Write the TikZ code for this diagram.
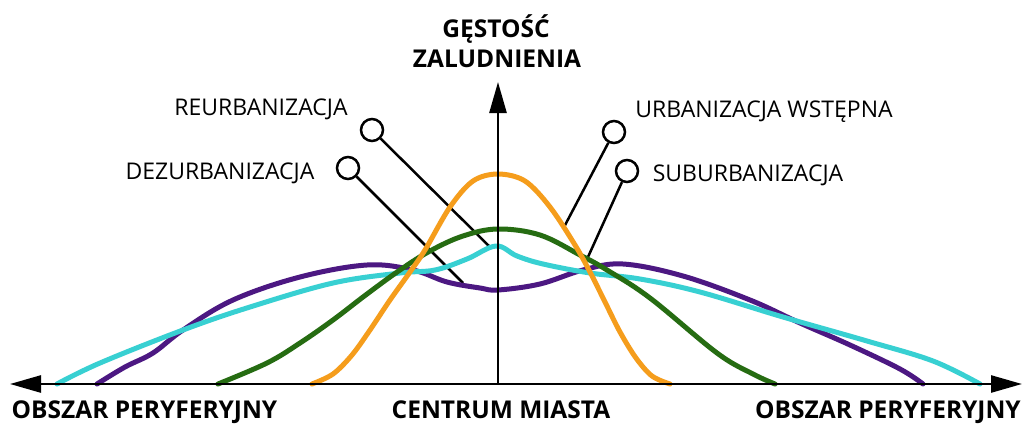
\documentclass[tikz,border=0pt]{standalone}
\usepackage{fontspec}
\setmainfont{Open Sans}
\usetikzlibrary{arrows.meta}
\definecolor{corange}{RGB}{245,157,28}
\definecolor{cgreen}{RGB}{38,108,18}
\definecolor{ccyan}{RGB}{56,208,210}
\definecolor{cpurple}{RGB}{76,24,130}
\tikzset{
  axisline/.style={line width=2.6pt, -{Triangle[length=31pt,width=17pt]}},
  curve/.style={line width=5pt, line cap=round, line join=round},
  leader/.style={line width=2.5pt, black},
  pinring/.style={circle, draw, line width=2.5pt, minimum size=22pt, inner sep=0pt, fill=white},
  boldlbl/.style={font=\fontsize{24.5}{28}\selectfont\bfseries, anchor=base, inner sep=0pt},
  reglbl/.style={font=\fontsize{23}{27}\selectfont, anchor=base, inner sep=0pt},
}
\begin{document}
\begin{tikzpicture}[x=1pt,y=-1pt]
\useasboundingbox[fill=white] (0,0) rectangle (1029,424);
% axis coordinates
\coordinate (O) at (498,384);
\coordinate (Lend) at (10,384);
\coordinate (Rend) at (1022,384);
\coordinate (Top) at (498,82);
% leader line ends
\coordinate (e1) at (490,247);
\coordinate (e2) at (463,283);
\coordinate (e3) at (563,229);
\coordinate (e4) at (588,257);
\node[pinring] (c1) at (372,130) {};
\node[pinring] (c2) at (348,168) {};
\node[pinring] (c3) at (614,132) {};
\node[pinring] (c4) at (627,171) {};
\draw[leader] (c1) -- (e1);
\draw[leader] (c2) -- (e2);
\draw[leader] (c3) -- (e3);
\draw[leader] (c4) -- (e4);
% curves
\draw[curve, cpurple] plot[smooth, tension=0.6] coordinates {(97,384) (125,367) (153,353) (183,330) (233,300) (300,277) (367,265) (413,270) (447,282) (480,288) (498,290) (540,284) (583,270) (623,264) (683,276) (750,300) (800,323) (850,345) (900,369) (923,384)};
\draw[curve, ccyan] plot[smooth, tension=0.6] coordinates {(57,384) (100,363) (183,330) (250,307) (333,283) (400,273) (435,270) (467,259) (496,246) (517,256) (543,264) (590,273) (640,279) (700,292) (783,317) (867,341) (933,361) (980,384)};
\draw[curve, cgreen] plot[smooth, tension=0.6] coordinates {(218,384) (267,363) (300,343) (333,320) (367,294) (400,270) (430,251) (463,236) (498,229) (540,235) (580,255) (607,270) (650,298) (717,353) (753,374) (775,384)};
\draw[curve, corange] plot[smooth, tension=0.55] coordinates {(312,384) (333,374) (352,355) (370,330) (390,300) (410,272) (425,250) (450,207) (473,181) (498,174) (525,181) (550,207) (575,245) (590,272) (605,302) (620,332) (636,358) (652,376) (670,384)};
% axes
\draw[axisline] (O) -- (Lend);
\draw[axisline] (O) -- (Rend);
\draw[axisline] (O) -- (Top);
% texts
\node[boldlbl] (t1) at (496,37) {GĘSTOŚĆ};
\node[boldlbl] (t2) at (497,67) {ZALUDNIENIA};
\node[boldlbl] (t3) at (144.5,418) {OBSZAR PERYFERYJNY};
\node[boldlbl] (t4) at (501,418) {CENTRUM MIASTA};
\node[boldlbl] (t5) at (888,418) {OBSZAR PERYFERYJNY};
\node[reglbl] (l1) at (261,115) {REURBANIZACJA};
\node[reglbl] (l2) at (220,179) {DEZURBANIZACJA};
\node[reglbl] (l3) at (764,117) {URBANIZACJA WSTĘPNA};
\node[reglbl] (l4) at (748,181) {SUBURBANIZACJA};
\end{tikzpicture}
\end{document}
